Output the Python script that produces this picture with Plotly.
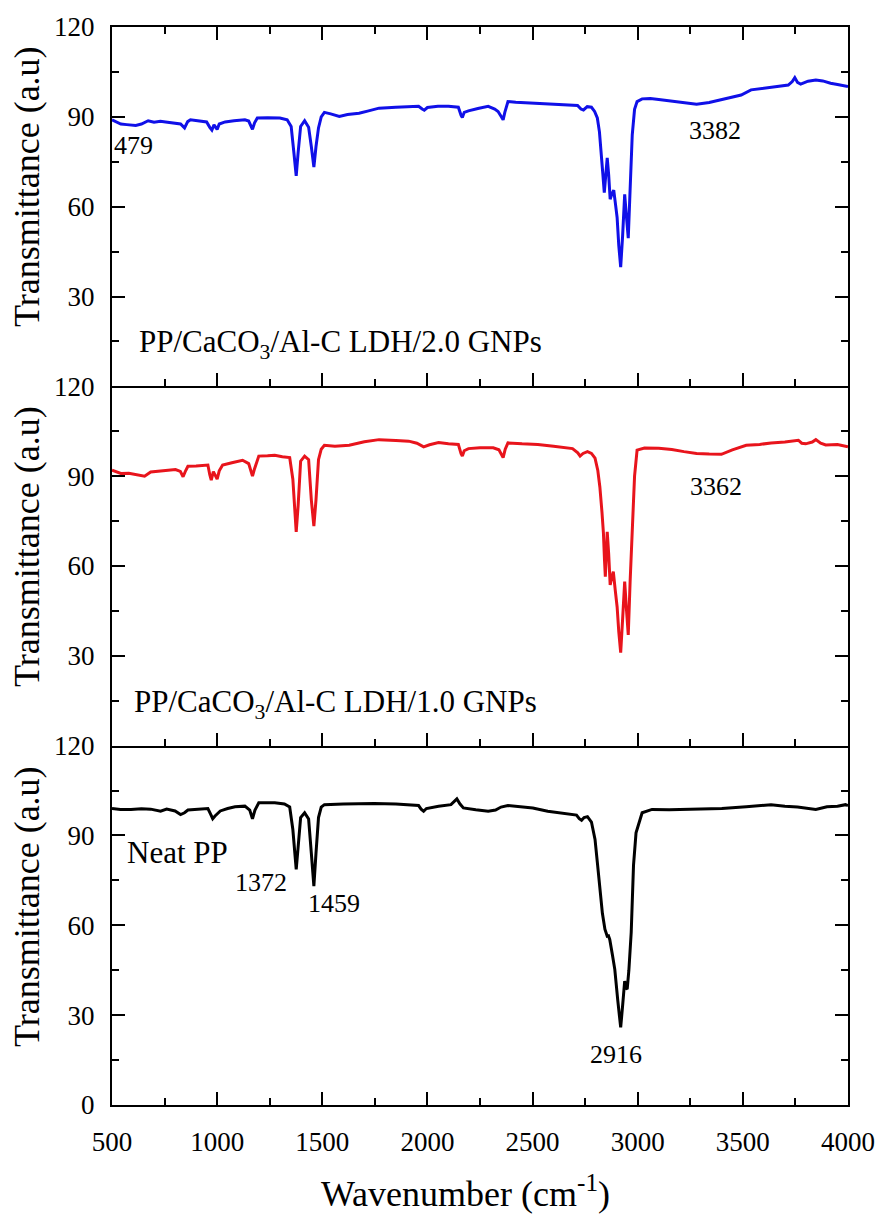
import plotly.graph_objects as go
from plotly.subplots import make_subplots

# ---------------- data ----------------
wn_top = [500, 520, 542, 570, 613, 640, 672, 700, 730, 755, 790, 826, 845, 860, 873, 900, 920, 950, 965, 975,
          985, 991, 1000, 1010, 1038, 1080, 1132, 1150, 1160, 1168, 1178, 1191, 1240, 1298, 1333, 1352, 1365,
          1376, 1385, 1397, 1416, 1435, 1448, 1460, 1470, 1482, 1495, 1510, 1540, 1581, 1620, 1675, 1720, 1770,
          1850, 1920, 1958, 1975, 1985, 2000, 2050, 2100, 2147, 2160, 2166, 2175, 2195, 2240, 2289, 2320, 2336,
          2350, 2360, 2368, 2383, 2420, 2501, 2600, 2680, 2714, 2730, 2742, 2760, 2780, 2795, 2808, 2818, 2827,
          2834, 2841, 2848, 2855, 2862, 2869, 2877, 2886, 2894, 2902, 2910, 2919, 2928, 2938, 2946, 2955, 2964,
          2974, 2985, 2997, 3021, 3060, 3100, 3162, 3220, 3280, 3340, 3398, 3450, 3492, 3539, 3580, 3634, 3680,
          3716, 3735, 3747, 3760, 3775, 3810, 3847, 3880, 3917, 3950, 3980, 4000]
tr_top = [89.0, 88.2, 87.6, 87.4, 87.1, 87.6, 88.7, 88.2, 88.5, 88.3, 88.0, 87.6, 86.3, 88.4, 89.0, 88.7, 88.5,
          88.3, 86.5, 85.6, 87.3, 86.8, 85.8, 87.6, 88.3, 88.7, 89.0, 88.6, 86.7, 85.8, 88.0, 89.6, 89.7, 89.6,
          89.0, 86.8, 78.0, 70.3, 78.0, 86.8, 88.7, 86.5, 80.0, 73.2, 80.0, 86.3, 90.0, 91.5, 91.0, 90.1, 90.8,
          91.2, 92.0, 92.9, 93.2, 93.4, 93.5, 92.6, 92.2, 93.1, 93.5, 93.5, 93.2, 90.5, 89.8, 91.5, 92.0, 92.8,
          93.5, 92.6, 91.8, 90.2, 89.0, 91.5, 95.1, 94.9, 94.6, 94.4, 94.1, 93.8, 92.6, 92.3, 93.4, 93.2, 91.8,
          89.6, 85.0, 78.5, 71.0, 64.7, 70.0, 76.3, 70.5, 62.5, 64.2, 65.5, 61.0, 56.4, 47.0, 39.8, 50.0, 64.1,
          57.0, 49.5, 66.0, 84.0, 92.5, 95.1, 96.0, 96.1, 95.8, 95.3, 94.8, 94.2, 94.8, 95.7, 96.4, 97.3, 99.0,
          99.4, 99.8, 100.3, 100.6, 101.8, 103.1, 101.5, 100.9, 101.9, 102.3, 102.0, 101.2, 100.8, 100.3, 100.1]

wn_mid = [500, 520, 542, 580, 620, 655, 684, 720, 760, 802, 825, 838, 850, 861, 900, 956, 965, 972, 982, 991,
          1000, 1010, 1026, 1070, 1121, 1150, 1160, 1168, 1178, 1198, 1240, 1274, 1310, 1345, 1360, 1368, 1376,
          1385, 1397, 1416, 1435, 1448, 1460, 1470, 1482, 1495, 1510, 1560, 1628, 1700, 1770, 1850, 1911, 1950,
          1982, 2010, 2053, 2100, 2147, 2160, 2166, 2175, 2195, 2250, 2313, 2340, 2350, 2360, 2370, 2383, 2450,
          2525, 2600, 2690, 2715, 2726, 2740, 2761, 2780, 2797, 2810, 2820, 2830, 2837, 2842, 2846, 2850, 2855,
          2862, 2869, 2876, 2884, 2893, 2902, 2910, 2919, 2928, 2938, 2946, 2955, 2964, 2974, 2985, 2997, 3032,
          3100, 3162, 3220, 3280, 3340, 3398, 3450, 3516, 3580, 3634, 3700, 3764, 3780, 3799, 3830, 3847, 3870,
          3894, 3950, 4000]
tr_mid = [92.0, 91.4, 90.9, 91.0, 90.5, 90.0, 91.4, 91.6, 91.8, 92.2, 91.6, 89.8, 91.8, 93.3, 93.4, 93.7, 90.5,
          88.7, 91.5, 90.0, 89.0, 91.8, 93.7, 94.5, 95.3, 94.2, 91.5, 90.0, 92.5, 96.7, 96.8, 97.0, 96.5, 96.2,
          89.0, 80.0, 71.4, 80.0, 95.0, 96.7, 95.5, 82.0, 73.3, 82.0, 95.5, 99.0, 100.3, 100.0, 100.3, 101.5,
          102.2, 101.9, 101.7, 101.0, 99.8, 100.5, 101.2, 100.8, 100.6, 97.5, 96.7, 98.5, 99.2, 99.5, 99.5, 98.8,
          97.5, 96.2, 99.0, 101.1, 100.8, 100.6, 100.0, 99.2, 97.8, 96.7, 97.6, 98.2, 97.6, 96.0, 92.0, 86.4,
          78.0, 70.9, 62.0, 56.4, 63.0, 71.4, 64.0, 53.7, 56.0, 58.1, 52.0, 46.4, 38.0, 31.1, 42.0, 54.8, 46.0,
          37.0, 55.0, 72.0, 90.0, 98.7, 99.4, 99.3, 98.9, 98.2, 97.6, 97.4, 97.3, 98.8, 100.3, 100.6, 101.1,
          101.4, 102.0, 101.0, 100.8, 101.4, 102.2, 101.0, 100.4, 100.6, 99.8]

wn_bot = [500, 540, 590, 640, 684, 731, 760, 800, 826, 845, 861, 920, 956, 970, 979, 990, 1015, 1050, 1085,
          1132, 1155, 1168, 1180, 1198, 1240, 1274, 1320, 1345, 1360, 1368, 1376, 1385, 1397, 1416, 1435, 1448,
          1460, 1470, 1482, 1495, 1510, 1600, 1680, 1746, 1850, 1958, 1970, 1982, 1995, 2053, 2112, 2130, 2140,
          2155, 2171, 2230, 2289, 2324, 2350, 2383, 2440, 2501, 2572, 2620, 2667, 2709, 2722, 2733, 2745, 2761,
          2780, 2797, 2808, 2820, 2832, 2844, 2849, 2855, 2861, 2867, 2880, 2891, 2905, 2919, 2928, 2938, 2944,
          2950, 2958, 2969, 2980, 2992, 3021, 3068, 3150, 3280, 3400, 3516, 3560, 3634, 3700, 3760, 3847, 3900,
          3950, 3988, 4000]
tr_bot = [99.0, 98.7, 98.7, 98.9, 98.8, 98.1, 98.8, 98.2, 97.0, 97.6, 98.5, 98.9, 99.0, 97.0, 95.6, 96.5, 98.2,
          99.0, 99.6, 99.8, 98.5, 95.6, 98.5, 100.9, 100.9, 100.9, 100.5, 99.5, 92.0, 85.0, 78.7, 86.0, 96.0,
          97.6, 95.5, 84.0, 73.1, 84.0, 96.0, 99.5, 100.3, 100.5, 100.6, 100.7, 100.5, 100.0, 98.8, 98.1, 99.0,
          99.8, 100.3, 101.6, 102.2, 100.5, 99.2, 98.6, 98.1, 98.5, 99.5, 100.0, 99.6, 99.2, 98.1, 97.6, 97.0,
          96.8, 95.6, 95.1, 96.0, 96.3, 94.5, 88.7, 81.0, 73.1, 64.0, 58.7, 57.5, 56.4, 56.5, 55.3, 50.0, 45.3,
          35.0, 25.9, 33.0, 41.4, 39.0, 38.7, 45.0, 57.6, 80.0, 90.9, 97.6, 98.7, 98.6, 98.7, 99.0, 99.6, 99.8,
          100.3, 99.8, 99.5, 98.7, 99.6, 99.8, 100.3, 100.0]

x_ticks = [500, 1000, 1500, 2000, 2500, 3000, 3500, 4000]
x_minor = [750, 1250, 1750, 2250, 2750, 3250, 3750]
y_ticks_upper = [30, 60, 90, 120]
y_ticks_bottom = [0, 30, 60, 90, 120]
y_minor = [15, 45, 75, 105]

sample_labels = ["PP/CaCO<sub>3</sub>/Al-C LDH/2.0 GNPs", "PP/CaCO<sub>3</sub>/Al-C LDH/1.0 GNPs", "Neat PP"]
series_colors = ["#1010e8", "#e8141c", "#000000"]

FONT = "Liberation Serif"

fig = make_subplots(rows=3, cols=1, shared_xaxes=True, vertical_spacing=0)

for i, (wn, tr) in enumerate([(wn_top, tr_top), (wn_mid, tr_mid), (wn_bot, tr_bot)]):
    fig.add_trace(go.Scatter(x=wn, y=tr, mode="lines",
                             line=dict(color=series_colors[i], width=3),
                             showlegend=False), row=i + 1, col=1)

axis_common = dict(showgrid=False, zeroline=False, showline=True, linewidth=2, linecolor="black",
                   ticks="inside", ticklen=13, tickwidth=2, tickcolor="black", automargin=False,
                   tickfont=dict(family=FONT, size=27, color="black"))

for r in range(1, 4):
    fig.update_xaxes(range=[500, 4000], tickmode="array", tickvals=x_ticks,
                     minor=dict(tickvals=x_minor, ticks="inside",
                                ticklen=7, tickwidth=2, tickcolor="black"),
                     mirror=("ticks" if r == 1 else False),
                     showticklabels=(r == 3), ticklabelstandoff=12,
                     row=r, col=1, **axis_common)
    fig.update_yaxes(range=[0, 120], tickmode="array",
                     tickvals=(y_ticks_bottom if r == 3 else y_ticks_upper),
                     minor=dict(tickvals=y_minor, ticks="inside",
                                ticklen=7, tickwidth=2, tickcolor="black"),
                     mirror="allticks", ticklabelstandoff=10,
                     row=r, col=1, **axis_common)

ann = []
# sample labels
ann.append(dict(x=618, y=14, xref="x", yref="y", text=sample_labels[0], xanchor="left", yanchor="middle",
                showarrow=False, font=dict(family=FONT, size=31, color="black")))
ann.append(dict(x=594, y=14, xref="x2", yref="y2", text=sample_labels[1], xanchor="left", yanchor="middle",
                showarrow=False, font=dict(family=FONT, size=31, color="black")))
ann.append(dict(x=561, y=84.2, xref="x3", yref="y3", text=sample_labels[2], xanchor="left", yanchor="middle",
                showarrow=False, font=dict(family=FONT, size=31, color="black")))
# peak labels
peak_labels = [("479", 500, 80.5, "x", "y", "left"),
               ("3382", 3368, 85.5, "x", "y", "center"),
               ("3362", 3372, 86.4, "x2", "y2", "center"),
               ("1372", 1208, 74.4, "x3", "y3", "center"),
               ("1459", 1557, 67.3, "x3", "y3", "center"),
               ("2916", 2898, 17.0, "x3", "y3", "center")]
for t, xv, yv, xr, yr, xa in peak_labels:
    ann.append(dict(x=xv, y=yv, xref=xr, yref=yr, text=t, xanchor=xa, yanchor="middle", showarrow=False,
                    font=dict(family=FONT, size=26, color="black")))
# y titles
for yc in [0.8525, 0.5186, 0.1846]:
    ann.append(dict(x=-0.1155, y=yc, xref="paper", yref="paper", text="Transmittance (a.u)",
                    textangle=-90, xanchor="center", yanchor="middle", showarrow=False,
                    font=dict(family=FONT, size=36, color="black")))
# x title
ann.append(dict(x=0.48, y=-0.0807, xref="paper", yref="paper", text="Wavenumber (cm<sup>-1</sup>)",
                xanchor="center", yanchor="middle", showarrow=False,
                font=dict(family=FONT, size=36, color="black")))

fig.update_layout(width=878, height=1218, margin=dict(l=112, r=30, t=27, b=113),
                  font=dict(family=FONT, color="black"),
                  paper_bgcolor="white", plot_bgcolor="white", annotations=ann)

fig.write_html("out.html")
